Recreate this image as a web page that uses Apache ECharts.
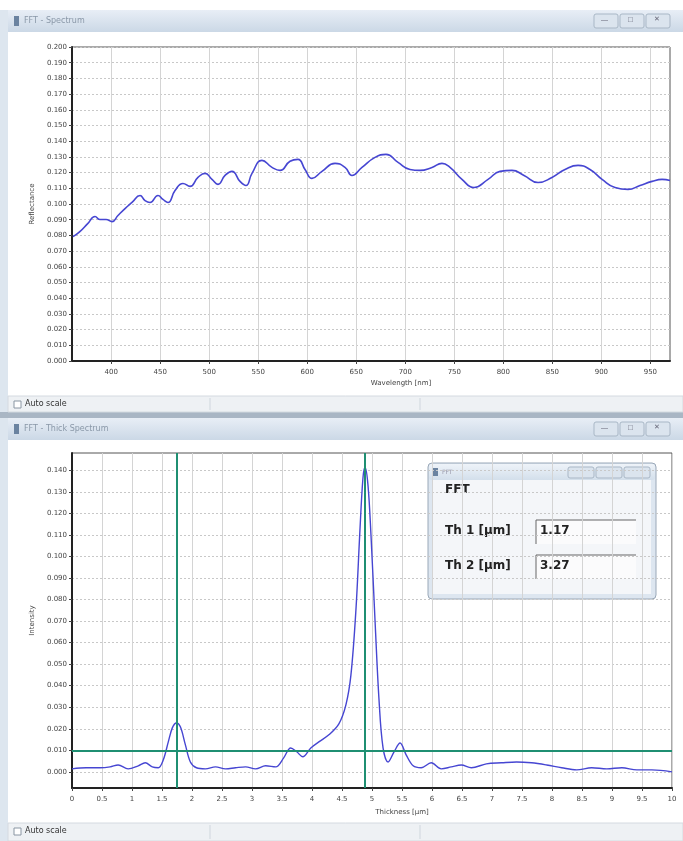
<!DOCTYPE html>
<html><head><meta charset="utf-8">
<script src="https://cdn.jsdelivr.net/npm/echarts@6/dist/echarts.min.js"></script>
<style>html,body{margin:0;padding:0;background:#dfe7ef}#c{width:683px;height:841px}</style>
</head><body><div id="c"></div>
<script>
// ---- Top chart: reflectance spectrum ----
const wavelength = [361,368,376,383.5,388.6,394.7,400.8,406.9,414.1,421.2,429.4,434.5,439.6,447.7,452.8,457.9,465.1,473.2,480.4,488.5,495.7,502.8,508.9,516.1,523.2,531.4,537.5,543.6,553.8,564,572.2,582.4,590.5,597.7,604.8,615,628.3,638.5,645.6,655.8,669.1,680.3,692.6,704.8,715,727.2,737.4,745.6,757.8,770.1,784.4,796.6,808.8,821.1,835.4,849.6,862.9,876.2,888.4,900.7,913.9,927.2,939.4,951.7,961.9,970];
const reflectance = [0.0792,0.0824,0.0875,0.0920,0.0901,0.0901,0.0888,0.0927,0.0971,0.1010,0.1054,0.1022,0.1010,0.1054,0.1029,0.1010,0.1086,0.1131,0.1112,0.1169,0.1195,0.1157,0.1125,0.1182,0.1208,0.1144,0.1118,0.1195,0.1278,0.1233,0.1214,0.1272,0.1284,0.1220,0.1163,0.1208,0.1259,0.1233,0.1182,0.1233,0.1297,0.1316,0.1265,0.1220,0.1214,0.1233,0.1259,0.1233,0.1157,0.1105,0.1157,0.1208,0.1214,0.1182,0.1137,0.1169,0.1220,0.1246,0.1220,0.1157,0.1105,0.1093,0.1118,0.1144,0.1157,0.1150];
const wavelengthTicks = [400,450,500,550,600,650,700,750,800,850,900,950];

// ---- Bottom chart: FFT thickness spectrum ----
const thickness = [0,0.234,0.468,0.635,0.769,0.936,1.104,1.221,1.338,1.438,1.522,1.605,1.672,1.739,1.806,1.890,1.973,2.074,2.224,2.391,2.559,2.726,2.893,3.060,3.227,3.395,3.528,3.645,3.746,3.846,3.980,4.114,4.281,4.448,4.565,4.649,4.732,4.799,4.849,4.883,4.933,4.983,5.050,5.117,5.184,5.268,5.368,5.468,5.569,5.686,5.819,5.987,6.154,6.321,6.488,6.656,6.906,7.157,7.408,7.659,7.910,8.161,8.411,8.662,8.913,9.164,9.415,9.666,10];
const intensity = [0.0014,0.0019,0.0019,0.0023,0.0032,0.0014,0.0028,0.0042,0.0023,0.0019,0.0056,0.0139,0.0204,0.0227,0.0209,0.0125,0.0046,0.0019,0.0014,0.0023,0.0014,0.0019,0.0023,0.0014,0.0028,0.0023,0.0065,0.0111,0.0093,0.0070,0.0111,0.0139,0.0172,0.0223,0.0311,0.0450,0.0751,0.1122,0.1363,0.1414,0.1331,0.1099,0.0705,0.0334,0.0111,0.0046,0.0093,0.0134,0.0079,0.0028,0.0019,0.0042,0.0014,0.0023,0.0032,0.0019,0.0037,0.0042,0.0046,0.0042,0.0032,0.0019,0.0009,0.0019,0.0014,0.0019,0.0009,0.0009,0.0];
const intensityTicks = [0,0.01,0.02,0.03,0.04,0.05,0.06,0.07,0.08,0.09,0.10,0.11,0.12,0.13,0.14];
const peakMarkers = [1.74, 4.88];
const thresholdLevel = 0.009;
const fftResults = [["Th 1 [µm]","1.17"],["Th 2 [µm]","3.27"]];

const chart = echarts.init(document.getElementById('c'), null, {renderer:'canvas'});
const FONT = 'DejaVu Sans';
const lbl = {fontSize:7, color:'#444', fontFamily:FONT};
const blue = '#4646d2';
const green = '#1f8f72';

function titleBar(y, title){
  return [
    {type:'rect', shape:{x:8,y:y,width:675,height:22}, style:{fill:new echarts.graphic.LinearGradient(0,0,0,1,[{offset:0,color:'#e8eef6'},{offset:1,color:'#cbd8e6'}])}, silent:true},
    {type:'rect', shape:{x:14,y:y+6,width:5,height:10}, style:{fill:'#6b83a0'}},
    {type:'text', x:24, y:y+7, style:{text:title, fontSize:8, fill:'#8a98a8', fontFamily:FONT}},
    {type:'rect', shape:{x:594,y:y+4,width:24,height:14,r:2}, style:{fill:'#dbe4ee', stroke:'#a9b7c6'}},
    {type:'rect', shape:{x:620,y:y+4,width:24,height:14,r:2}, style:{fill:'#dbe4ee', stroke:'#a9b7c6'}},
    {type:'rect', shape:{x:646,y:y+4,width:24,height:14,r:2}, style:{fill:'#dbe4ee', stroke:'#a9b7c6'}},
    {type:'text', x:601, y:y+7, style:{text:'—', fontSize:7, fill:'#667'}},
    {type:'text', x:628, y:y+6, style:{text:'□', fontSize:8, fill:'#667'}},
    {type:'text', x:654, y:y+6, style:{text:'✕', fontSize:7, fill:'#667'}}
  ];
}
function statusBar(y, h){
  return [
    {type:'rect', shape:{x:8,y:y,width:675,height:h}, style:{fill:'#eef1f4', stroke:'#d4dae0'}},
    {type:'rect', shape:{x:14,y:y+5,width:7,height:7}, style:{fill:'#fff', stroke:'#8a96a3'}},
    {type:'text', x:25, y:y+4, style:{text:'Auto scale', fontSize:8, fill:'#333', fontFamily:FONT}},
    {type:'line', shape:{x1:210,y1:y+2,x2:210,y2:y+h-2}, style:{stroke:'#cfd6dd'}},
    {type:'line', shape:{x1:420,y1:y+2,x2:420,y2:y+h-2}, style:{stroke:'#cfd6dd'}}
  ];
}

const graphics = [
  {type:'rect', z:-10, shape:{x:0,y:0,width:683,height:841}, style:{fill:'#dde6ef'}},
  {type:'rect', z:-10, shape:{x:0,y:0,width:683,height:10}, style:{fill:'#ffffff'}},
  {type:'rect', z:-9, shape:{x:8,y:32,width:675,height:364}, style:{fill:'#ffffff'}},
  {type:'rect', z:-9, shape:{x:0,y:412,width:683,height:6}, style:{fill:'#a9b6c4'}},
  {type:'rect', z:-9, shape:{x:8,y:440,width:675,height:383}, style:{fill:'#ffffff'}},
  ...titleBar(10,'FFT - Spectrum'),
  ...statusBar(396,16),
  ...titleBar(418,'FFT - Thick Spectrum'),
  ...statusBar(823,18),
  // FFT result dialog
  {type:'group', z:100, children:[
    {type:'rect', shape:{x:428,y:463,width:228,height:136,r:4}, style:{fill:'#dde6f0', stroke:'#9aa8b8'}},
    {type:'rect', shape:{x:429,y:464,width:226,height:16,r:3}, style:{fill:new echarts.graphic.LinearGradient(0,0,0,1,[{offset:0,color:'#eef3f9'},{offset:1,color:'#d3dfeb'}])}},
    {type:'rect', shape:{x:433,y:468,width:5,height:8}, style:{fill:'#6b83a0'}},
    {type:'text', x:442, y:469, style:{text:'FFT', fontSize:6, fill:'#99a', fontFamily:FONT}},
    {type:'rect', shape:{x:568,y:467,width:26,height:11,r:2}, style:{fill:'#dbe4ee', stroke:'#a9b7c6'}},
    {type:'rect', shape:{x:596,y:467,width:26,height:11,r:2}, style:{fill:'#dbe4ee', stroke:'#a9b7c6'}},
    {type:'rect', shape:{x:624,y:467,width:26,height:11,r:2}, style:{fill:'#dbe4ee', stroke:'#a9b7c6'}},
    {type:'rect', shape:{x:433,y:480,width:218,height:114}, style:{fill:'#f4f6f9'}},
    {type:'text', x:445, y:484, style:{text:'FFT', fontSize:12, fontWeight:'bold', fill:'#222', fontFamily:FONT}},
    ...fftResults.flatMap((r,i)=>{
      const y = 520 + i*35;
      return [
        {type:'text', x:445, y:y+5, style:{text:r[0], fontSize:12, fontWeight:'bold', fill:'#222', fontFamily:FONT}},
        {type:'rect', shape:{x:536,y:y,width:100,height:24}, style:{fill:'#fbfbfc'}},
        {type:'line', shape:{x1:536,y1:y,x2:636,y2:y}, style:{stroke:'#666', lineWidth:1}},
        {type:'line', shape:{x1:536,y1:y,x2:536,y2:y+24}, style:{stroke:'#666', lineWidth:1}},
        {type:'text', x:540, y:y+5, style:{text:r[1], fontSize:12, fontWeight:'bold', fill:'#222', fontFamily:FONT}}
      ];
    })
  ]}
];

const splitH = {show:true, lineStyle:{color:'#c8c8c8', type:[2,2], width:1}};
const splitV = {show:true, lineStyle:{color:'#d4d4d4', width:1}};
const axisLineBlack = {show:true, onZero:false, lineStyle:{color:'#222', width:2}};

chart.setOption({
  animation:false,
  backgroundColor:'transparent',
  graphic: graphics,
  grid:[
    {left:72, top:47, width:598, height:314, show:true, borderColor:'#555', borderWidth:1, backgroundColor:'#fff'},
    {left:72, top:453, width:600, height:335, show:true, borderColor:'#555', borderWidth:1, backgroundColor:'#fff'}
  ],
  xAxis:[
    {gridIndex:0, type:'value', min:360, max:970,
     name:'Wavelength [nm]', nameLocation:'middle', nameGap:19, nameTextStyle:{fontSize:7, color:'#444', fontFamily:FONT, padding:[0,0,0,60]},
     axisLine:axisLineBlack, axisTick:{show:true, length:3, customValues:wavelengthTicks, lineStyle:{color:'#444'}},
     axisLabel:{...lbl, margin:8, customValues:wavelengthTicks}, splitLine:splitV},
    {gridIndex:1, type:'value', min:0, max:10, interval:0.5,
     name:'Thickness [µm]', nameLocation:'middle', nameGap:21, nameTextStyle:{fontSize:7, color:'#444', fontFamily:FONT, padding:[0,0,0,60]},
     axisLine:axisLineBlack, axisTick:{show:true, length:3, lineStyle:{color:'#444'}},
     axisLabel:{...lbl, margin:8, formatter:v=>String(v)}, splitLine:splitV}
  ],
  yAxis:[
    {gridIndex:0, type:'value', min:0, max:0.2, interval:0.01,
     name:'Reflectance', nameLocation:'middle', nameGap:32, nameTextStyle:{fontSize:7, color:'#444', fontFamily:FONT},
     axisLine:axisLineBlack, axisTick:{show:true, length:3, lineStyle:{color:'#444'}},
     axisLabel:{...lbl, margin:5, formatter:v=>v.toFixed(3)}, splitLine:splitH},
    {gridIndex:1, type:'value', min:-0.0075, max:0.148,
     name:'Intensity', nameLocation:'middle', nameGap:32, nameTextStyle:{fontSize:7, color:'#444', fontFamily:FONT},
     axisLine:axisLineBlack, axisTick:{show:true, length:3, customValues:intensityTicks, lineStyle:{color:'#444'}},
     axisLabel:{...lbl, margin:5, customValues:intensityTicks, formatter:v=>v.toFixed(3)}, splitLine:splitH}
  ],
  series:[
    {type:'line', xAxisIndex:0, yAxisIndex:0, data:wavelength.map((w,i)=>[w,reflectance[i]]),
     smooth:0.5, showSymbol:false, lineStyle:{color:blue, width:1.6}},
    {type:'line', xAxisIndex:1, yAxisIndex:1, data:thickness.map((t,i)=>[t,intensity[i]]),
     smooth:0.35, showSymbol:false, lineStyle:{color:blue, width:1.4},
     markLine:{silent:true, symbol:'none', label:{show:false}, lineStyle:{color:green, width:2, type:'solid'},
       data:[...peakMarkers.map(p=>({xAxis:p})), {yAxis:thresholdLevel}]}}
  ]
});
</script></body></html>
